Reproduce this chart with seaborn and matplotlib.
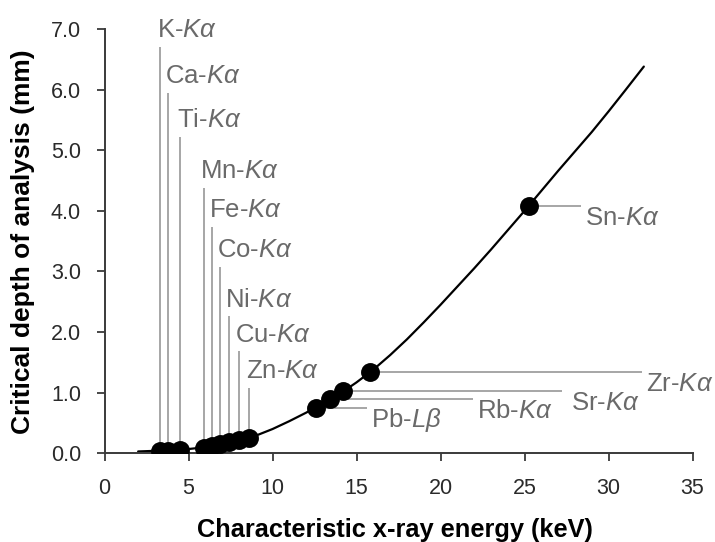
import matplotlib
matplotlib.use("Agg")
import matplotlib.pyplot as plt
import seaborn as sns
import pandas as pd

# ---- data ----
# smooth curve: critical depth (mm) vs energy (keV)
curve_energy = [2.0, 3.0, 4.0, 5.0, 6.0, 7.0, 8.0, 9.0, 10.0, 11.0, 12.0, 13.0, 14.0,
                15.0, 16.0, 17.0, 18.0, 19.0, 20.0, 21.0, 22.0, 23.0, 24.0, 25.0,
                26.0, 27.0, 28.0, 29.0, 30.0, 31.0, 32.1]
curve_depth = [0.03, 0.04, 0.05, 0.07, 0.10, 0.15, 0.21, 0.29, 0.40, 0.53, 0.67, 0.82, 0.98,
               1.17, 1.38, 1.62, 1.88, 2.16, 2.45, 2.75, 3.05, 3.36, 3.68, 4.00,
               4.33, 4.66, 4.98, 5.30, 5.64, 5.99, 6.38]

# vertical-leader lines (low energy)
v_elements = ["K", "Ca", "Ti", "Mn", "Fe", "Co", "Ni", "Cu", "Zn"]
v_lines = ["Kα"] * 9
v_energy = [3.3, 3.8, 4.5, 5.9, 6.4, 6.9, 7.4, 8.0, 8.6]
v_depth = [0.04, 0.04, 0.05, 0.09, 0.12, 0.15, 0.18, 0.22, 0.26]
v_top = [6.71, 5.95, 5.22, 4.38, 3.74, 3.08, 2.26, 1.68, 1.08]

# horizontal-leader lines (high energy)
h_elements = ["Pb", "Rb", "Sr", "Zr", "Sn"]
h_lines = ["Lβ", "Kα", "Kα", "Kα", "Kα"]
h_energy = [12.6, 13.4, 14.2, 15.8, 25.25]
h_depth = [0.75, 0.89, 1.02, 1.34, 4.08]
h_end = [15.63, 21.93, 27.23, 32.0, 28.36]

x_ticks = [0, 5, 10, 15, 20, 25, 30, 35]
y_ticks = [0.0, 1.0, 2.0, 3.0, 4.0, 5.0, 6.0, 7.0]
x_label = "Characteristic x-ray energy (keV)"
y_label = "Critical depth of analysis (mm)"

# ---- style ----
sns.set_theme(style="ticks")
plt.rcParams["font.family"] = ["Liberation Sans", "DejaVu Sans"]
plt.rcParams["mathtext.fontset"] = "custom"
plt.rcParams["mathtext.rm"] = "Liberation Sans"
plt.rcParams["mathtext.it"] = "Liberation Sans:italic"

GRAY_TXT = "#6a6a6a"
GRAY_LN = "#8e8e8e"
AX_COL = "#3a3a3a"

fig = plt.figure(figsize=(7.15, 5.42), dpi=100)
ax = fig.add_axes([0.1462, 0.1637, 0.8224, 0.7828])

curve_df = pd.DataFrame({"energy": curve_energy, "depth": curve_depth})
pts_df = pd.DataFrame({
    "energy": v_energy + h_energy,
    "depth": v_depth + h_depth,
})

# leader lines
ax.vlines(v_energy, v_depth, v_top, color=GRAY_LN, lw=1.1, zorder=1)
ax.hlines(h_depth, h_energy, h_end, color=GRAY_LN, lw=1.1, zorder=1)

sns.lineplot(data=curve_df, x="energy", y="depth", color="black", lw=1.6,
             sort=True, ax=ax, zorder=2)
sns.scatterplot(data=pts_df, x="energy", y="depth", color="black",
                edgecolor="black", s=185, linewidth=0, ax=ax, zorder=3)

fs_ann = 18.5
for el, ln, e, t in zip(v_elements, v_lines, v_energy, v_top):
    ax.annotate(f"{el}-$\\mathit{{{ln}}}$", xy=(e, t), xytext=(-2.5, 7),
                textcoords="offset points", ha="left", va="baseline",
                fontsize=fs_ann, color=GRAY_TXT)

h_gap = [3.0, 3.0, 6.5, 3.0, 3.0]
for el, ln, d, xe, g in zip(h_elements, h_lines, h_depth, h_end, h_gap):
    ax.annotate(f"{el}-$\\mathit{{{ln}}}$", xy=(xe, d), xytext=(g, -13.5),
                textcoords="offset points", ha="left", va="baseline",
                fontsize=fs_ann, color=GRAY_TXT)

ax.set_xlim(0, 35)
ax.set_ylim(0, 7)
ax.set_xticks(x_ticks)
ax.set_yticks(y_ticks)
ax.set_xticklabels([str(v) for v in x_ticks])
ax.set_yticklabels([f"{v:.1f}" for v in y_ticks])
ax.tick_params(axis="both", direction="out", length=6, width=1.3,
               color=AX_COL, labelsize=15.5, labelcolor="#2a2a2a")
ax.tick_params(axis="y", pad=11)
ax.tick_params(axis="x", pad=12)
for s in ["top", "right"]:
    ax.spines[s].set_visible(False)
for s in ["left", "bottom"]:
    ax.spines[s].set_color(AX_COL)
    ax.spines[s].set_linewidth(1.4)
ax.set_xlabel("")
ax.set_ylabel("")

fig.text(395 / 715, 1 - 537 / 542, x_label, ha="center", va="baseline",
         fontsize=18.3, fontweight="bold", color="black")
fig.text(23 / 715, 1 - 242 / 542, y_label, ha="center", va="center",
         rotation=90, fontsize=19, fontweight="bold", color="black")

fig.savefig("out.png", dpi=100)
